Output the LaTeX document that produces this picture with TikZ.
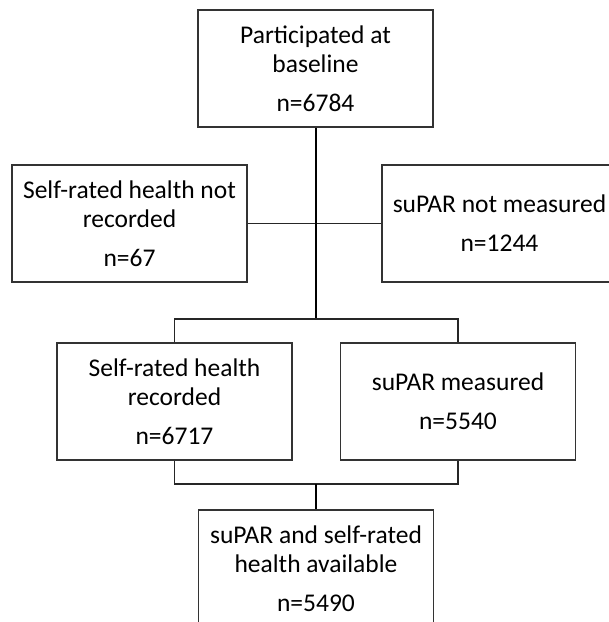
\documentclass[tikz,border=0pt]{standalone}
\usepackage{fontspec}
\setmainfont{Carlito}
\usepackage{tikz}
\usetikzlibrary{positioning}
\tikzset{
  boite/.style={draw=black!80, line width=1.3pt, minimum width=235pt, minimum height=117pt, align=center, inner sep=0pt},
  ligne/.style={draw=black!85, line width=1.4pt},
  tronc/.style={draw=black, line width=2pt}
}

\begin{document}
\begin{tikzpicture}[x=1pt, y=-1pt, font=\fontsize{25.5}{29}\selectfont]
\useasboundingbox (0,0) rectangle (609,622);
\clip (0,0) rectangle (609,622);
\node[boite] (base) at (315.5,68.5) {Participated at\\baseline\\[10pt]n=6784};
\node[boite] (srhno) at (129.5,223.5) {Self-rated health not\\recorded\\[10pt]n=67};
\node[boite] (suparno) at (499.5,223.5) {suPAR not measured\\[10pt]n=1244};
\node[boite] (srh) at (174.5,401.5) {Self-rated health\\recorded\\[10pt]n=6717};
\node[boite] (supar) at (458,401.5) {suPAR measured\\[10pt]n=5540};
\node[boite] (both) at (316,568.5) {suPAR and self-rated\\health available\\[10pt]n=5490};
\coordinate (b1) at (315.5,319);
\coordinate (b2) at (316,484);
% liens
\draw[ligne] (srhno.east) -- (suparno.west);
\draw[tronc] (base.south) -- (b1);
\draw[ligne] (srh.north) |- (b1) -| (supar.north);
\draw[ligne] (srh.south) |- (b2) -| (supar.south);
\draw[tronc] (b2) -- (both.north);
\end{tikzpicture}
\end{document}
